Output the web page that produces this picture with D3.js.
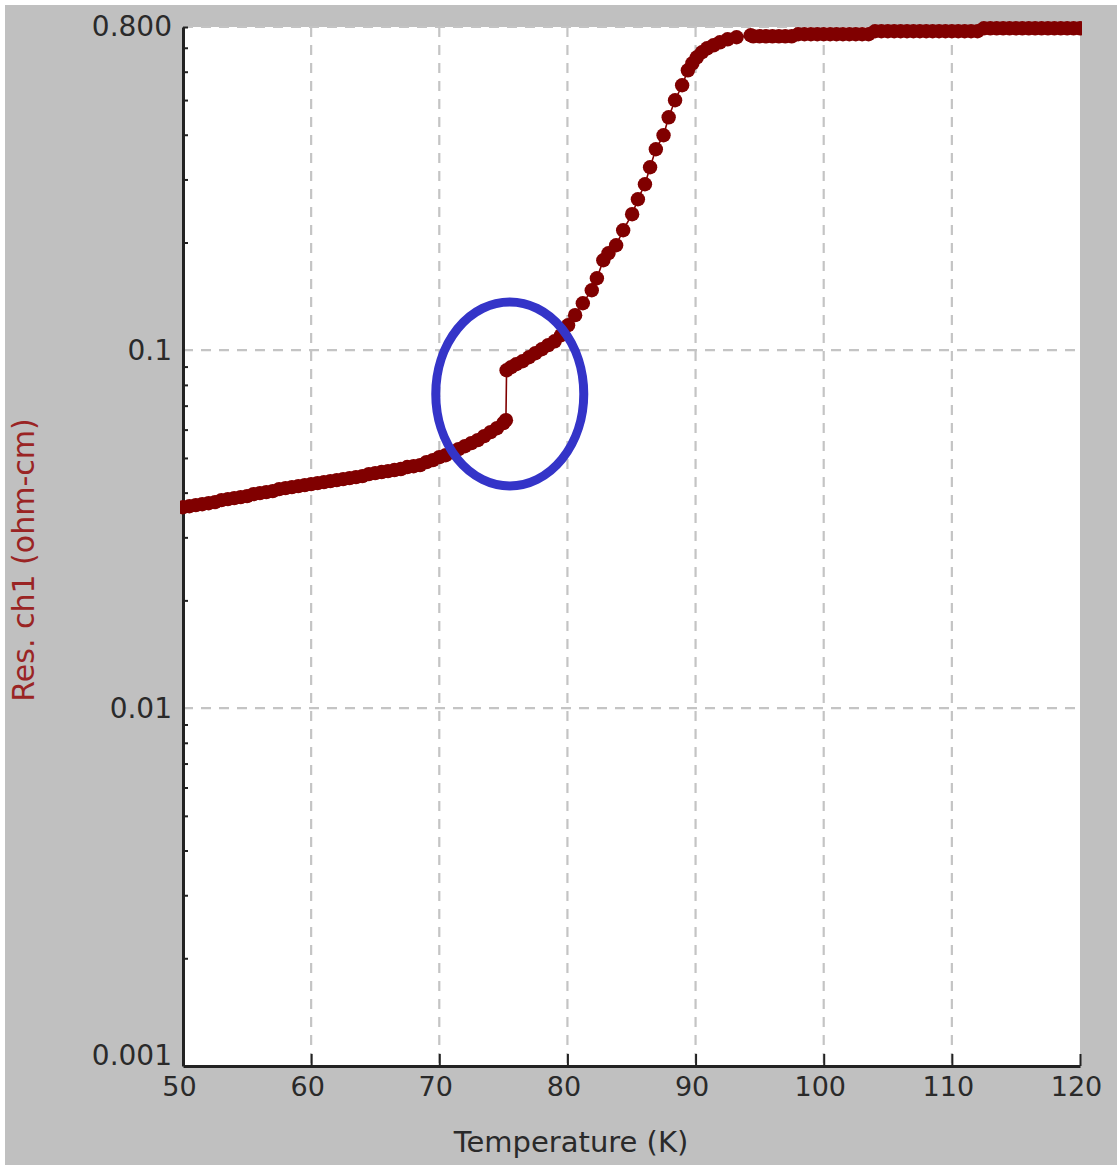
<!DOCTYPE html>
<html>
<head>
<meta charset="utf-8">
<script src="https://cdn.jsdelivr.net/npm/d3@7"></script>
<style>
  html, body { margin: 0; padding: 0; background: #fff; }
  svg { display: block; }
  text { font-family: "DejaVu Sans", sans-serif; }
</style>
</head>
<body>
<div id="chart"></div>
<script>
// temperature sweep, K
const temperatureK = [
  50.0, 50.5, 51.0, 51.5, 52.0, 52.5, 53.0, 53.5, 54.0, 54.5,
  55.0, 55.5, 56.0, 56.5, 57.0, 57.5, 58.0, 58.5, 59.0, 59.5,
  60.0, 60.5, 61.0, 61.5, 62.0, 62.5, 63.0, 63.5, 64.0, 64.5,
  65.0, 65.5, 66.0, 66.5, 67.0, 67.5, 68.0, 68.5, 69.0, 69.5,
  70.0, 70.5, 71.0, 71.5, 72.0, 72.5, 73.0, 73.5, 74.0, 74.5,
  75.0, 75.2,
  75.25, 75.6, 76.0, 76.5, 77.0, 77.5, 78.0, 78.5, 79.0, 79.5,
  80.05, 80.6, 81.2, 81.9, 82.3, 82.8, 83.2, 83.8, 84.35, 85.05,
  85.5, 86.05, 86.45, 86.9, 87.5, 87.9, 88.4, 88.95, 89.4, 89.75,
  90.1, 90.5, 90.9, 91.4, 91.9, 92.5, 93.2, 94.3,
  94.5, 95.0, 95.5, 96.0, 96.5, 97.0, 97.5,
  98.0, 98.5, 99.0, 99.5, 100.0, 100.5, 101.0, 101.5, 102.0, 102.5, 103.0, 103.5,
  104.0, 104.5, 105.0, 105.5, 106.0, 106.5, 107.0, 107.5, 108.0, 108.5, 109.0, 109.5,
  110.0, 110.5, 111.0, 111.5, 112.0,
  112.5, 113.0, 113.5, 114.0, 114.5, 115.0, 115.5, 116.0, 116.5, 117.0, 117.5,
  118.0, 118.5, 119.0, 119.5, 120.0
];

// resistivity ch1, ohm-cm
const resistance = [
  0.03642, 0.03665, 0.03690, 0.03713, 0.03737, 0.03762, 0.03811, 0.03836, 0.03861, 0.03886,
  0.03911, 0.03962, 0.03988, 0.04013, 0.04039, 0.04091, 0.04118, 0.04144, 0.04171, 0.04198,
  0.04225, 0.04253, 0.04280, 0.04308, 0.04336, 0.04364, 0.04392, 0.04421, 0.04449, 0.04507,
  0.04536, 0.04566, 0.04595, 0.04625, 0.04655, 0.04716, 0.04742, 0.04773, 0.04866, 0.04929,
  0.05025, 0.05090, 0.05189, 0.05291, 0.05393, 0.05499, 0.05606, 0.05752, 0.05902, 0.06055,
  0.06254, 0.06376,
  0.08790, 0.08962, 0.09137, 0.09316, 0.09559, 0.09809, 0.1006, 0.1033, 0.1059, 0.1101,
  0.1174, 0.1253, 0.1353, 0.1471, 0.1589, 0.1784, 0.1866, 0.1965, 0.2164, 0.2399,
  0.2641, 0.2909, 0.3245, 0.3643, 0.3987, 0.4475, 0.4993, 0.5499, 0.6055, 0.6334,
  0.6583, 0.6799, 0.6976, 0.7112, 0.7250, 0.7392, 0.7488, 0.7585,
  0.7536, 0.7536, 0.7536, 0.7536, 0.7536, 0.7536, 0.7536,
  0.7634, 0.7634, 0.7634, 0.7634, 0.7634, 0.7634, 0.7634, 0.7634, 0.7634, 0.7634, 0.7634, 0.7634,
  0.7783, 0.7783, 0.7783, 0.7783, 0.7783, 0.7783, 0.7783, 0.7783, 0.7783, 0.7783, 0.7783, 0.7783,
  0.7783, 0.7783, 0.7783, 0.7783, 0.7783,
  0.7933, 0.7933, 0.7933, 0.7933, 0.7933, 0.7933, 0.7933, 0.7933, 0.7933, 0.7933, 0.7933,
  0.7933, 0.7933, 0.7933, 0.7933, 0.7933
];

const xTicks = [50, 60, 70, 80, 90, 100, 110, 120];
const yTicks = [0.001, 0.01, 0.1, 0.8];
const yTickLabels = ["0.001", "0.01", "0.1", "0.800"];

// the circled jump (annotation)
const markT = 75.5, markR = 0.0755;

const W = 1117, H = 1165;
const margin = { top: 27, right: 37, bottom: 99, left: 183 };
const plotW = W - margin.left - margin.right;
const plotH = H - margin.top - margin.bottom;

const data = temperatureK.map((t, i) => ({ t: t, r: resistance[i] }));

const x = d3.scaleLinear().domain([50, 120]).range([margin.left, margin.left + plotW]);
const y = d3.scaleLog().domain([0.001, 0.8]).range([margin.top + plotH, margin.top]);

const svg = d3.select("#chart").append("svg")
    .attr("width", W)
    .attr("height", H);

svg.append("rect")
    .attr("x", 5).attr("y", 5)
    .attr("width", W - 5).attr("height", H - 5)
    .attr("fill", "#c0c0c0");

svg.append("rect")
    .attr("x", margin.left).attr("y", margin.top)
    .attr("width", plotW).attr("height", plotH)
    .attr("fill", "#fff");

// grid
const grid = svg.append("g")
    .attr("stroke", "#c4c4c4")
    .attr("stroke-width", 2.2)
    .attr("stroke-dasharray", "10,8");

grid.selectAll("line.v")
    .data(xTicks.filter(d => d > 50 && d < 120))
    .enter().append("line")
    .attr("class", "v")
    .attr("x1", d => x(d)).attr("x2", d => x(d))
    .attr("y1", margin.top).attr("y2", margin.top + plotH);

grid.selectAll("line.h")
    .data(yTicks.filter(d => d > 0.001))
    .enter().append("line")
    .attr("class", "h")
    .attr("x1", margin.left).attr("x2", margin.left + plotW)
    .attr("y1", d => y(d)).attr("y2", d => y(d));

// axes
const xAxis = svg.append("g")
    .attr("transform", `translate(0,${margin.top + plotH})`)
    .call(d3.axisBottom(x).tickValues(xTicks).tickSize(-12).tickPadding(11).tickSizeOuter(0));
xAxis.select(".domain").attr("stroke", "#222").attr("stroke-width", 3);
xAxis.selectAll(".tick line").attr("stroke", "#222").attr("stroke-width", 2);
xAxis.selectAll(".tick text")
    .attr("x", -4)
    .attr("font-size", 27)
    .attr("font-family", "DejaVu Sans, sans-serif")
    .attr("fill", "#2a2a2a");

const minorTicks = y.ticks().filter(d => !yTicks.slice(0, 3).some(m => Math.abs(m - d) < 1e-9));
const yMinor = svg.append("g")
    .attr("transform", `translate(${margin.left},0)`)
    .call(d3.axisLeft(y).tickValues(minorTicks).tickSize(-5).tickFormat("").tickSizeOuter(0));
yMinor.select(".domain").remove();
yMinor.selectAll(".tick line").attr("stroke", "#222").attr("stroke-width", 2);

const yAxis = svg.append("g")
    .attr("transform", `translate(${margin.left},0)`)
    .call(d3.axisLeft(y).tickValues(yTicks).tickSize(0).tickPadding(11).tickSizeOuter(0)
        .tickFormat((d, i) => yTickLabels[i]));
yAxis.select(".domain").attr("stroke", "#222").attr("stroke-width", 3);
yAxis.selectAll(".tick text")
    .attr("font-size", 28)
    .attr("font-family", "DejaVu Sans, sans-serif")
    .attr("fill", "#2a2a2a")
    .attr("dy", (d, i) => i === 0 ? "-0.05em" : "0.32em");

// data
svg.append("clipPath").attr("id", "clip")
    .append("rect")
    .attr("x", margin.left - 3).attr("y", 0)
    .attr("width", plotW + 5).attr("height", margin.top + plotH);

const series = svg.append("g").attr("clip-path", "url(#clip)");

series.append("path")
    .datum(data)
    .attr("fill", "none")
    .attr("stroke", "#800000")
    .attr("stroke-width", 1.6)
    .attr("d", d3.line().x(d => x(d.t)).y(d => y(d.r)));

series.selectAll("circle")
    .data(data)
    .enter().append("circle")
    .attr("cx", d => x(d.t))
    .attr("cy", d => y(d.r))
    .attr("r", 7.2)
    .attr("fill", "#800000");

// annotation ellipse
svg.append("ellipse")
    .attr("cx", x(markT))
    .attr("cy", y(markR))
    .attr("rx", 74)
    .attr("ry", 92)
    .attr("fill", "none")
    .attr("stroke", "#3434c8")
    .attr("stroke-width", 9);

// axis titles
svg.append("text")
    .attr("x", 571)
    .attr("y", 1152)
    .attr("text-anchor", "middle")
    .attr("font-size", 29)
    .attr("fill", "#2a2a2a")
    .text("Temperature (K)");

svg.append("text")
    .attr("transform", "translate(34,560) rotate(-90)")
    .attr("text-anchor", "middle")
    .attr("font-size", 30)
    .attr("fill", "#9a2424")
    .text("Res. ch1 (ohm-cm)");
</script>
</body>
</html>
